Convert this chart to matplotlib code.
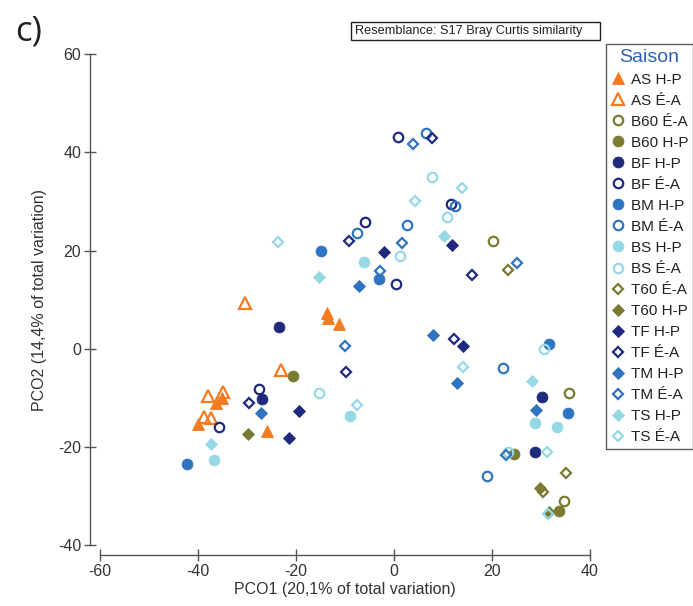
import matplotlib
matplotlib.use('Agg')
import matplotlib.pyplot as plt
from matplotlib.patches import Rectangle

plt.rcParams['font.family'] = ['Liberation Sans', 'DejaVu Sans']
plt.rcParams['axes.unicode_minus'] = False

# ---------------- data ----------------
as_hp_x = [-36.4, -35.2, -40.1, -25.9, -13.7, -13.5, -11.2]
as_hp_y = [-11.1, -10.1, -15.3, -16.8, 7.2, 6.2, 5.0]
as_ea_x = [-23.1, -37.9, -34.8, -38.7, -37.3, -30.5]
as_ea_y = [-4.3, -9.6, -8.8, -13.9, -14.2, 9.4]
b60_ea_x = [20.3, 35.7, 34.7]
b60_ea_y = [22.0, -9.1, -31.0]
b60_hp_x = [-20.6, 24.5, 33.7]
b60_hp_y = [-5.6, -21.5, -33.1]
bf_hp_x = [-27.0, -23.5, 30.3, 28.7]
bf_hp_y = [-10.3, 4.4, -9.9, -21.0]
bf_ea_x = [-27.6, -35.8, 0.8, 11.6, -5.9, 0.4]
bf_ea_y = [-8.2, -16.0, 43.2, 29.5, 25.8, 13.2]
bm_hp_x = [-42.2, -15.0, -3.0, 31.6, 35.5]
bm_hp_y = [-23.4, 20.0, 14.2, 0.9, -13.2]
bm_ea_x = [6.5, 12.4, -7.5, 2.6, 22.3, 18.9]
bm_ea_y = [43.9, 29.1, 23.5, 25.2, -4.0, -25.9]
bs_hp_x = [-36.7, -6.1, -9.0, 28.8, 33.2]
bs_hp_y = [-22.7, 17.7, -13.7, -15.1, -16.0]
bs_ea_x = [-15.4, 7.8, 10.8, 1.3, 30.6, 23.3]
bs_ea_y = [-9.1, 34.9, 26.8, 18.9, -0.1, -21.0]
t60_ea_x = [23.2, 35.0, 30.5]
t60_ea_y = [16.0, -25.3, -29.2]
t60_hp_x = [-29.7, 29.8, 31.6]
t60_hp_y = [-17.4, -28.3, -33.2]
tf_hp_x = [-19.4, -21.4, -2.0, 11.9, 14.1]
tf_hp_y = [-12.6, -18.1, 19.8, 21.1, 0.6]
tf_ea_x = [-29.6, -9.1, 7.7, 16.0, -9.7, 12.2]
tf_ea_y = [-11.0, 22.0, 42.9, 15.0, -4.7, 1.9]
tm_hp_x = [-27.1, -7.2, 8.0, 12.9, 28.9]
tm_hp_y = [-13.0, 12.8, 2.8, -6.9, -12.5]
tm_ea_x = [3.8, 1.7, -2.9, -10.0, 25.0, 22.8]
tm_ea_y = [41.8, 21.6, 15.9, 0.6, 17.4, -21.7]
ts_hp_x = [-37.3, -15.4, 10.2, 28.2]
ts_hp_y = [-19.4, 14.6, 23.0, -6.5]
ts_ea_x = [-23.6, 4.3, 13.8, -7.6, 14.1, 31.3, 31.5]
ts_ea_y = [21.8, 30.1, 32.7, -11.5, -3.7, -21.1, -33.6]

labels = ['AS H-P', 'AS É-A', 'B60 É-A', 'B60 H-P', 'BF H-P', 'BF É-A',
          'BM H-P', 'BM É-A', 'BS H-P', 'BS É-A', 'T60 É-A', 'T60 H-P',
          'TF H-P', 'TF É-A', 'TM H-P', 'TM É-A', 'TS H-P', 'TS É-A']
xs = [as_hp_x, as_ea_x, b60_ea_x, b60_hp_x, bf_hp_x, bf_ea_x, bm_hp_x, bm_ea_x,
      bs_hp_x, bs_ea_x, t60_ea_x, t60_hp_x, tf_hp_x, tf_ea_x, tm_hp_x, tm_ea_x,
      ts_hp_x, ts_ea_x]
ys = [as_hp_y, as_ea_y, b60_ea_y, b60_hp_y, bf_hp_y, bf_ea_y, bm_hp_y, bm_ea_y,
      bs_hp_y, bs_ea_y, t60_ea_y, t60_hp_y, tf_hp_y, tf_ea_y, tm_hp_y, tm_ea_y,
      ts_hp_y, ts_ea_y]

# ---------------- styles ----------------
ORANGE = '#F47B20'
OLIVE = '#7A7A32'
NAVY = '#202A7C'
MID = '#2F74C0'
LIGHT = '#96D9E5'

colors = [ORANGE, ORANGE, OLIVE, OLIVE, NAVY, NAVY, MID, MID, LIGHT, LIGHT,
          OLIVE, OLIVE, NAVY, NAVY, MID, MID, LIGHT, LIGHT]
markers = ['^', '^', 'o', 'o', 'o', 'o', 'o', 'o', 'o', 'o',
           'D', 'D', 'D', 'D', 'D', 'D', 'D', 'D']
filled = [True, False, False, True, True, False, True, False, True, False,
          False, True, True, False, True, False, True, False]
msize = {'^': 9.0, 'o': 7.8, 'D': 6.0}

fig = plt.figure(figsize=(6.93, 6.06), dpi=100)
W, H = 693, 606
ax = fig.add_axes([100 / W, (H - 545) / H, 490 / W, 490.7 / H])

handles = []
for lab, x, y, c, m, f in zip(labels, xs, ys, colors, markers, filled):
    kw = dict(linestyle='none', marker=m, markersize=msize[m], color=c,
              markeredgecolor=c, clip_on=False)
    if f:
        kw.update(markerfacecolor=c, markeredgewidth=0.6)
    else:
        kw.update(markerfacecolor='none', markeredgewidth=1.6,
                  markersize=msize[m] - 1.0)
    h, = ax.plot(x, y, label=lab, **kw)
    handles.append(h)

ax.set_xlim(-60, 40)
ax.set_ylim(-40, 60)
ax.set_xticks([-60, -40, -20, 0, 20, 40])
ax.set_yticks([-40, -20, 0, 20, 40, 60])
for s in ['top', 'right']:
    ax.spines[s].set_visible(False)
AXC = '#555555'
for s in ['left', 'bottom']:
    ax.spines[s].set_position(('outward', 7))
    ax.spines[s].set_color(AXC)
    ax.spines[s].set_linewidth(1.0)
ax.tick_params(axis='both', direction='inout', length=9, width=1.0,
               colors=AXC, labelcolor='#333333', labelsize=11.5, pad=2)
ax.set_xlabel('PCO1 (20,1% of total variation)', fontsize=11.5,
              color='#333333', labelpad=2)
ax.set_ylabel('PCO2 (14,4% of total variation)', fontsize=11.5,
              color='#333333', labelpad=8)

# legend
leg = fig.legend(handles=handles, labels=labels, loc='upper left',
                 bbox_to_anchor=(605.7 / W, 1 - 44 / H), title='Saison',
                 frameon=True, fancybox=False, edgecolor='#333333',
                 fontsize=11, title_fontsize=14, labelspacing=0.46,
                 handletextpad=0.35, handlelength=1.0, borderpad=0.3,
                 borderaxespad=0)
leg.get_title().set_color('#2E62B9')
leg.get_frame().set_linewidth(1.0)
for t in leg.get_texts():
    t.set_color('#222222')

# resemblance box
fig.patches.append(Rectangle((351 / W, 1 - 39.5 / H), 249 / W, 17.5 / H,
                             transform=fig.transFigure, facecolor='white',
                             edgecolor='#222222', linewidth=1.0))
fig.text(355 / W, 1 - 30.8 / H, 'Resemblance: S17 Bray Curtis similarity',
         fontsize=9.2, color='#222222', va='center', ha='left')

# panel label
fig.text(15 / W, 1 - 32 / H, 'c)', fontsize=25, family=['Open Sans', 'DejaVu Sans'],
         va='center', ha='left', color='#222222')

fig.savefig('out.png', dpi=100)
